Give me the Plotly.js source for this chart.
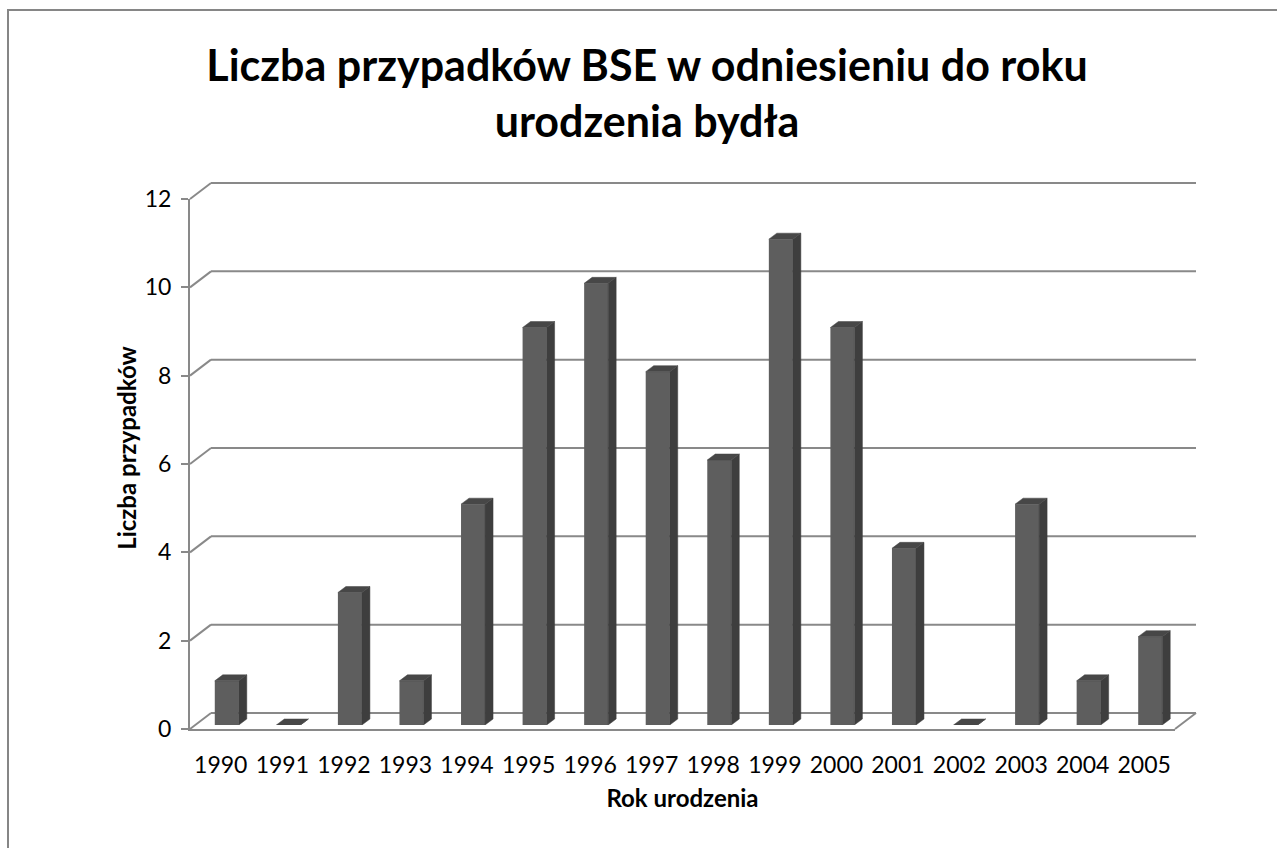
<!DOCTYPE html>
<html><head><meta charset="utf-8">
<script src="https://cdn.plot.ly/plotly-3.0.1.min.js"></script>
<style>html,body{margin:0;padding:0;background:#fff}#chart{width:1277px;height:848px}</style>
</head><body><div id="chart"></div>
<script>
// ---- data ----
const years = ['1990','1991','1992','1993','1994','1995','1996','1997','1998','1999','2000','2001','2002','2003','2004','2005'];
const cases = [1, 0, 3, 1, 5, 9, 10, 8, 6, 11, 9, 4, 0, 5, 1, 2];
const yTicks = [0, 2, 4, 6, 8, 10, 12];
const chartTitle = 'Liczba przypadków BSE w odniesieniu do roku<br>urodzenia bydła';
const xTitle = 'Rok urodzenia';
const yTitle = 'Liczba przypadków';

// ---- layout geometry (pixels) ----
const W = 1277, H = 848;
const M = {l: 190, r: 81, t: 183, b: 119};
const PW = W - M.l - M.r, PH = H - M.t - M.b;
const px = x => (x - M.l) / PW;
const py = y => (H - M.b - y) / PH;
const FRONT = {x0: 190, x1: 1175, yb: 729, yt: 199};
const DEPTH = {dx: 21, dy: 16};
const BAR = {dx: 6, dy: 4, sideDx: 8, sideDy: 6, width: 0.39};
const FONT = 'Lato, "Open Sans", sans-serif';
const GRID = '#898989';

const n = years.length;
const idx = years.map((_, i) => i);
const xRange = [-0.5, n - 0.5];
const yRange = [0, 12];
const unitX = (FRONT.x1 - FRONT.x0) / n;
const unitY = (FRONT.yb - FRONT.yt) / (yRange[1] - yRange[0]);
const sdx = BAR.sideDx / unitX, sdy = BAR.sideDy / unitY, hw = BAR.width / 2;

const sideX = [], sideY = [], topX = [], topY = [];
idx.forEach(i => {
  const v = cases[i], r = i + hw, l = i - hw;
  sideX.push(r, r + sdx, r + sdx, r, r, null);
  sideY.push(0, sdy, v + sdy, v, 0, null);
  topX.push(l, r, r + sdx, l + sdx, l, null);
  topY.push(v, v, v + sdy, v + sdy, v, null);
});

const traces = [
  {type: 'scatter', x: [0], y: [0], xaxis: 'x', yaxis: 'y', mode: 'markers',
   marker: {opacity: 0}, hoverinfo: 'skip', showlegend: false},
  {type: 'scatter', x: [0], y: [0], xaxis: 'x2', yaxis: 'y2', mode: 'markers',
   marker: {opacity: 0}, hoverinfo: 'skip', showlegend: false},
  {type: 'bar', x: idx, y: cases, xaxis: 'x3', yaxis: 'y3', width: BAR.width,
   marker: {color: '#5e5e5e', line: {width: 0}}, showlegend: false, hoverinfo: 'skip'},
  {type: 'scatter', x: sideX, y: sideY, xaxis: 'x3', yaxis: 'y3', mode: 'lines',
   fill: 'toself', fillcolor: '#3e3e3e', line: {color: '#3e3e3e', width: 0.5},
   connectgaps: false, showlegend: false, hoverinfo: 'skip'},
  {type: 'scatter', x: topX, y: topY, xaxis: 'x3', yaxis: 'y3', mode: 'lines',
   fill: 'toself', fillcolor: '#474747', line: {color: '#474747', width: 0.5},
   connectgaps: false, showlegend: false, hoverinfo: 'skip'}
];

// back-wall gridlines and diagonal connectors (floor + wall), from the y tick values
const shapes = [];
yTicks.forEach(v => {
  const yf = FRONT.yb - (v - yRange[0]) * unitY;
  shapes.push({type: 'line', xref: 'paper', yref: 'paper', layer: 'below',
    x0: px(FRONT.x0), y0: py(yf), x1: px(FRONT.x0 + DEPTH.dx), y1: py(yf - DEPTH.dy),
    line: {color: GRID, width: 2}});
  shapes.push({type: 'line', xref: 'paper', yref: 'paper', layer: 'below',
    x0: px(FRONT.x0 + DEPTH.dx), y0: py(yf - DEPTH.dy), x1: px(FRONT.x1 + DEPTH.dx), y1: py(yf - DEPTH.dy),
    line: {color: GRID, width: 2}});
});
shapes.push({type: 'line', xref: 'paper', yref: 'paper', layer: 'below',
  x0: px(FRONT.x1), y0: py(FRONT.yb), x1: px(FRONT.x1 + DEPTH.dx), y1: py(FRONT.yb - DEPTH.dy),
  line: {color: GRID, width: 2}});
// outer chart border
shapes.push({
  type: 'rect', xref: 'paper', yref: 'paper',
  x0: px(8), x1: px(W + 10), y0: py(H + 10), y1: py(10),
  line: {color: '#868686', width: 2}, fillcolor: 'rgba(0,0,0,0)', layer: 'above'
});

const layout = {
  width: W, height: H,
  margin: M,
  paper_bgcolor: '#ffffff', plot_bgcolor: 'rgba(0,0,0,0)',
  showlegend: false,
  font: {family: FONT, color: '#000'},
  title: {text: chartTitle, x: 647 / W, xanchor: 'center', xref: 'container',
          y: 1 - 81 / H, yanchor: 'middle', yref: 'container',
          font: {family: FONT, size: 43, weight: 'bold', color: '#000'}},
  xaxis: {domain: [px(FRONT.x0 + DEPTH.dx), 1], range: xRange, anchor: 'y', visible: false, fixedrange: true},
  yaxis: {domain: [py(FRONT.yb - DEPTH.dy), 1], range: yRange, anchor: 'x', fixedrange: true,
          showticklabels: false, ticks: '', showgrid: false, zeroline: false, showline: false,
          title: {text: yTitle, standoff: 66, font: {family: FONT, size: 24, weight: 'bold', color: '#000'}}},
  xaxis2: {domain: [0, px(FRONT.x1)], range: xRange, anchor: 'y2',
           tickvals: idx, ticktext: years, ticks: '', showline: true, linecolor: GRID, linewidth: 2,
           showgrid: false, zeroline: false, ticklabelstandoff: 14,
           tickfont: {family: FONT, size: 23, color: '#000'},
           title: {text: xTitle, standoff: 14, font: {family: FONT, size: 24, weight: 'bold', color: '#000'}},
           fixedrange: true},
  yaxis2: {domain: [0, py(FRONT.yt)], range: yRange, anchor: 'x2',
           tickvals: yTicks, ticks: 'outside', ticklen: 7, tickwidth: 2, tickcolor: GRID,
           showline: true, linecolor: GRID, linewidth: 2, showgrid: false, zeroline: false,
           ticklabelstandoff: 5,
           tickfont: {family: FONT, size: 23, color: '#000'},
           fixedrange: true},
  xaxis3: {domain: [px(FRONT.x0 + BAR.dx), px(FRONT.x1 + BAR.dx)], range: xRange, anchor: 'y3', visible: false, fixedrange: true},
  yaxis3: {domain: [py(FRONT.yb - BAR.dy), py(FRONT.yt - BAR.dy)], range: yRange, anchor: 'x3', visible: false, fixedrange: true},
  shapes: shapes
};

Plotly.newPlot('chart', traces, layout, {staticPlot: true, displayModeBar: false});
</script>
</body></html>
